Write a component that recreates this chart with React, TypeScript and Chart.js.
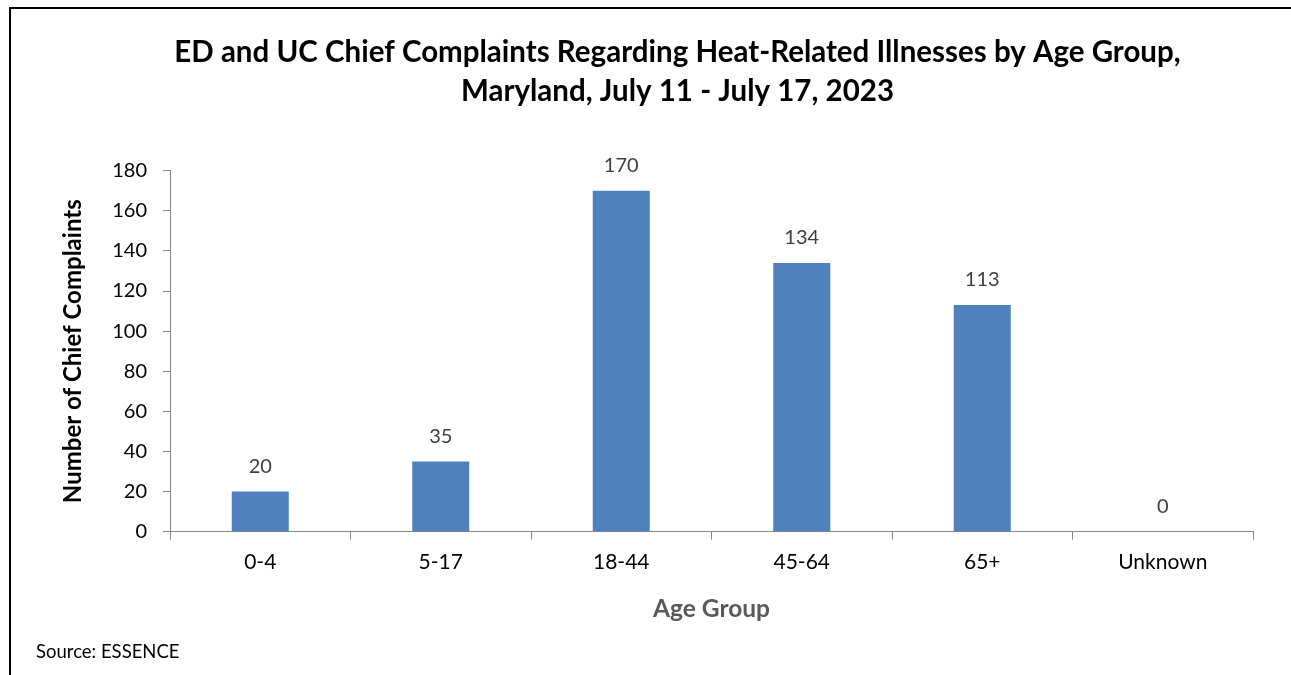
import React, { useEffect, useRef } from "react";
import { Chart, registerables } from "chart.js";

Chart.register(...registerables);

const categories = ["0-4", "5-17", "18-44", "45-64", "65+", "Unknown"];
const counts = [20, 35, 170, 134, 113, 0];
const titleLines = [
  "ED and UC Chief Complaints Regarding Heat-Related Illnesses by Age Group,",
  "Maryland, July 11 - July 17, 2023",
];
const yAxisTitle = "Number of Chief Complaints";
const xAxisTitle = "Age Group";
const sourceNote = "Source: ESSENCE";

const FONT = "Lato, 'Open Sans', sans-serif";

const decorPlugin = {
  id: "decor",
  afterDraw(chart: any) {
    const ctx = chart.ctx;
    ctx.save();
    // frame
    ctx.strokeStyle = "#000";
    ctx.lineWidth = 2;
    ctx.beginPath();
    ctx.moveTo(10, 675);
    ctx.lineTo(10, 8);
    ctx.lineTo(1291, 8);
    ctx.stroke();
    // value labels
    const meta = chart.getDatasetMeta(0);
    ctx.fillStyle = "#404040";
    ctx.font = `20px ${FONT}`;
    ctx.textAlign = "center";
    ctx.textBaseline = "alphabetic";
    meta.data.forEach((bar: any, i: number) => {
      ctx.fillText(String(counts[i]), bar.x, bar.y - 18.7);
    });
    // source
    ctx.fillStyle = "#000";
    ctx.font = `18.5px ${FONT}`;
    ctx.textAlign = "left";
    ctx.fillText(sourceNote, 36, 657.7);
    ctx.restore();
  },
};

export default function App() {
  const ref = useRef<HTMLCanvasElement | null>(null);
  useEffect(() => {
    if (!ref.current) return;
    const chart = new Chart(ref.current, {
      type: "bar",
      data: {
        labels: categories,
        datasets: [
          {
            data: counts,
            backgroundColor: "#4F81BD",
            borderWidth: 0,
            barPercentage: 0.316,
            categoryPercentage: 1,
          },
        ],
      },
      options: {
        animation: false,
        responsive: true,
        maintainAspectRatio: false,
        layout: { padding: { left: 64, right: 0, top: 0, bottom: 51.6 } },
        plugins: {
          legend: { display: false },
          tooltip: { enabled: false },
          title: {
            display: true,
            text: titleLines,
            color: "#000",
            font: { family: FONT, size: 29.5, weight: "bold", lineHeight: 39 / 29.5 },
            padding: { top: 33, bottom: 59.7 },
          },
        },
        scales: {
          x: {
            offset: true,
            grid: {
              display: true,
              offset: true,
              drawOnChartArea: false,
              drawTicks: true,
              tickLength: 8,
              color: "#868686",
            },
            border: { display: true, color: "#868686", width: 1 },
            ticks: {
              color: "#000",
              font: { family: FONT, size: 21 },
              padding: 10,
              maxRotation: 0,
            },
            title: {
              display: true,
              text: xAxisTitle,
              color: "#595959",
              font: { family: FONT, size: 24.5, weight: "bold", lineHeight: 1.2 },
              padding: 0,
            },
            afterFit(scale: any) {
              scale.height = 91.7;
            },
          },
          y: {
            min: 0,
            max: 180,
            grid: {
              display: true,
              drawOnChartArea: false,
              drawTicks: true,
              tickLength: 7,
              color: "#868686",
            },
            border: { display: true, color: "#868686", width: 1 },
            ticks: {
              stepSize: 20,
              color: "#000",
              font: { family: FONT, size: 20 },
              padding: 16,
            },
            title: {
              display: true,
              text: yAxisTitle,
              color: "#000",
              font: { family: FONT, size: 24, weight: "bold", lineHeight: 1.2 },
              padding: { top: -5.4, bottom: 0 },
            },
            afterFit(scale: any) {
              scale.width = 106;
            },
          },
          y2: {
            position: "right",
            display: true,
            grid: { display: false, drawTicks: false },
            border: { display: false },
            ticks: { display: false },
            afterFit(scale: any) {
              scale.width = 38;
            },
          },
        },
      },
      plugins: [decorPlugin],
    } as any);
    return () => chart.destroy();
  }, []);
  return (
    <div style={{ position: "fixed", left: 0, top: 0, width: 1291, height: 675, background: "#fff" }}>
      <canvas ref={ref} />
    </div>
  );
}
